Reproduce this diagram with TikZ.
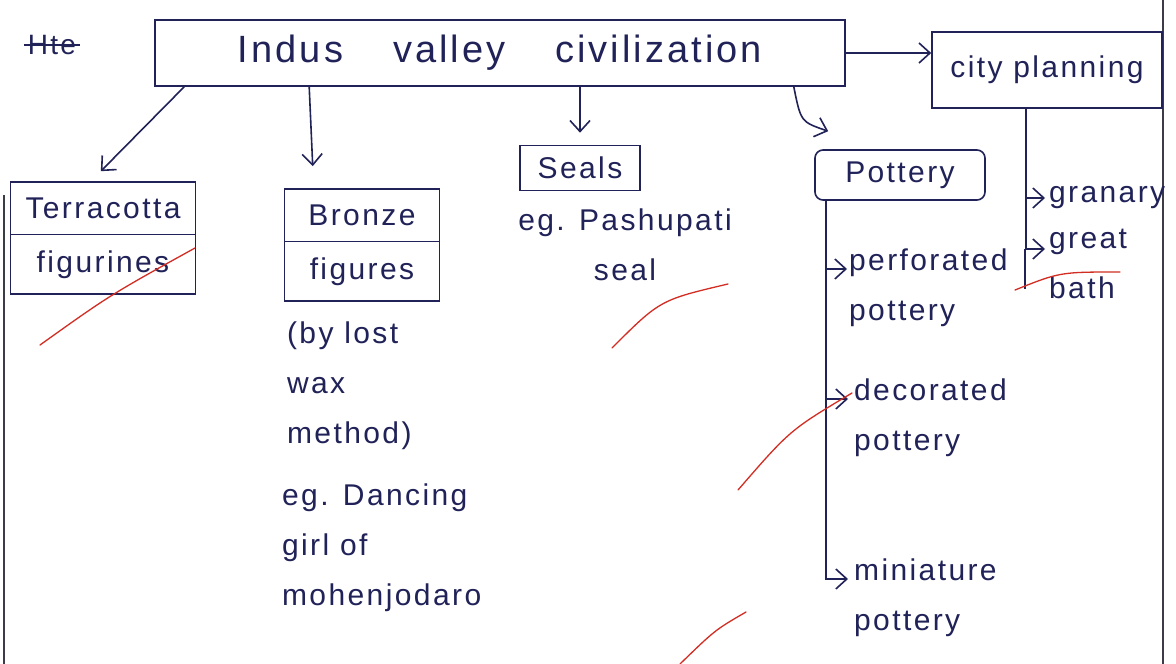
\documentclass[tikz,border=0pt]{standalone}
\usepackage{fontspec}
\setmainfont{Liberation Sans}
\newfontfamily\hand[LetterSpace=8]{Liberation Sans}
\usepackage{tikz}
\usetikzlibrary{arrows.meta,positioning,calc,shapes.multipart}
\definecolor{ink}{RGB}{32,34,88}
\definecolor{redpen}{RGB}{210,45,35}
\definecolor{edge}{RGB}{60,60,70}

\begin{document}
\begin{tikzpicture}[>={Straight Barb[length=11pt,width=20pt]},x=1pt,y=-1pt,line width=1.6pt,
  every node/.style={text=ink,font=\hand\fontsize{30}{50}\selectfont},
  box/.style={draw=ink,inner sep=4pt},
  twobox/.style={rectangle split,rectangle split parts=2,draw=ink,inner ysep=15pt,minimum width=#1},
  note/.style={align=left},
  link/.style={draw=ink,->},
  tick/.style={draw=redpen,line width=1.3pt,line cap=round}]
\useasboundingbox (0,0) rectangle (1176,664);
\fill[white] (0,0) rectangle (1176,664);
\draw[edge,line width=1.3pt] (4,195)--(4,664) (1163,0)--(1163,664);
\node (hte) at (52,45) {\fontsize{28}{30}\selectfont Hte};
\draw[ink,line width=1.4pt] (hte.west)--(hte.east);
\node[box,minimum width=690pt,minimum height=66pt,font=\hand\fontsize{38}{40}\selectfont] (ivc) at (500,53) {Indus\hspace{50pt}valley\hspace{50pt}civilization};
\node[box,minimum width=230pt,minimum height=76pt] (city) at (1047,70) {city planning};
\node[twobox=185pt] (terra) at (103,238) {Terracotta\nodepart{two}figurines};
\node[twobox=155pt] (bronze) at (362,245) {Bronze\nodepart{two}figures};
\node[box,minimum width=120pt,minimum height=45pt] (seals) at (580,168) {Seals};
\node[box,rounded corners=8pt,minimum width=170pt,minimum height=50pt] (pottery) at (900,175) {Pottery};
\node[note,anchor=north west] (wax) at (283,318) {(by lost\\wax\\method)};
\node[note,anchor=north west] (dance) at (278,480) {eg. Dancing\\girl of\\mohenjodaro};
\node[align=center] (pashu) at (625,245) {eg. Pashupati\\seal};
\node[note,anchor=north west] (perf) at (845,245) {perforated\\pottery};
\node[note,anchor=north west] (deco) at (850,375) {decorated\\pottery};
\node[note,anchor=north west] (mini) at (850,555) {miniature\\pottery};
\node[anchor=west] (granary) at (1045,198) {granary};
\node[note,anchor=north west] (bath) at (1045,225) {great\\bath};
\draw[link] (ivc.east)--(ivc.east-|city.west);
\draw[link,shorten >=14pt] ($(ivc.south west)+(30,0)$)--($(terra.north)+(-12,0)$);
\draw[link,shorten >=22pt] ($(ivc.south west)+(155,0)$)--($(bronze.north west)+(30,0)$);
\draw[link,shorten >=12pt] (seals.north|-ivc.south)--(seals.north);
\draw[link] ($(ivc.south east)+(-52,0)$) .. controls ($(ivc.south east)+(-45,35)$) .. ($(pottery.north west)+(14,-18)$);
\coordinate (pt) at ($(pottery.south west)+(12,0)$);
\draw[link] (pt) |- ($(perf.north west)+(2,24)$);
\draw[link] (pt) |- ($(deco.north west)+(-2,24)$);
\draw[link] (pt) |- ($(mini.north west)+(-2,24)$);
\coordinate (ct) at ($(city.south west)+(95,0)$);
\draw[link] (ct) |- (granary.west);
\draw[link] (ct) |- ($(bath.north west)+(0,24)$);
\draw[ink] ($(bath.north west)+(-20,24)$)--++(0,40);
\draw[tick] (40,345) .. controls (110,295) .. (195,248);
\draw[tick] (612,348) .. controls (660,300) .. (728,284);
\draw[tick] (738,490) .. controls (790,430) .. (852,393);
\draw[tick] (680,664) .. controls (715,630) .. (746,612);
\draw[tick] (1015,290) .. controls (1060,272) .. (1120,272);
\end{tikzpicture}
\end{document}
